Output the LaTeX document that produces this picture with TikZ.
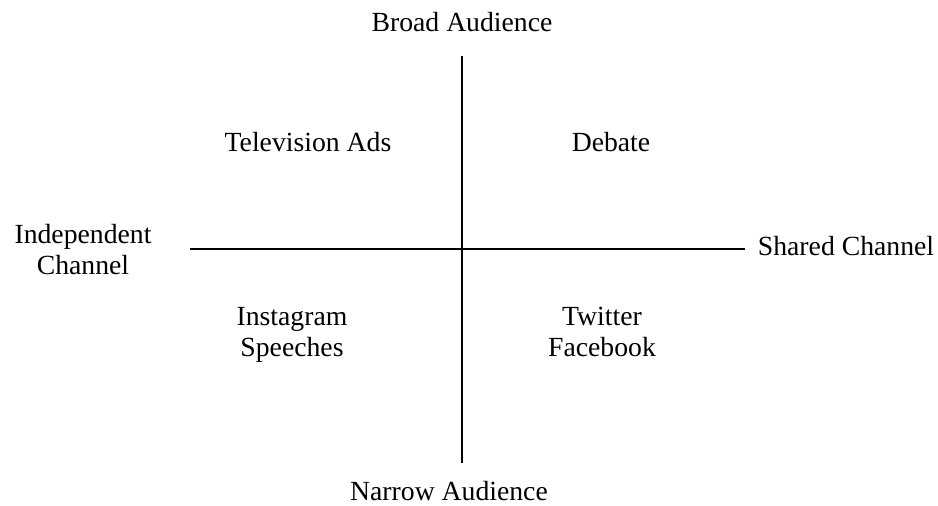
\documentclass[tikz,border=0pt]{standalone}
\usepackage{fontspec}
\setmainfont{Liberation Serif}
\begin{document}
\begin{tikzpicture}[x=1pt,y=-1pt,
  lbl/.style={inner sep=0pt, align=center, anchor=base, font=\fontsize{27.7}{31}\selectfont},
  axis/.style={line width=1.3pt, black}]
\useasboundingbox (0,0) rectangle (938,506);
% axes
\coordinate (top) at (462,56);
\coordinate (bottom) at (462,463);
\coordinate (left) at (190,249);
\coordinate (right) at (745,249);
\draw[axis] (top) -- (bottom);
\draw[axis] (left) -- (right);
% axis labels (placed by baseline of last line)
\node[lbl] (broad) at (462,31) {Broad Audience};
\node[lbl] (narrow) at (449,500) {Narrow Audience};
\node[lbl] (indep) at (83,274) {Independent\\Channel};
\node[lbl] (shared) at (846,255) {Shared Channel};
% quadrant labels
\node[lbl] (tv) at (308,151) {Television Ads};
\node[lbl] (debate) at (611,151) {Debate};
\node[lbl] (insta) at (292,356) {Instagram\\Speeches};
\node[lbl] (twit) at (602,356) {Twitter\\Facebook};
\end{tikzpicture}
\end{document}
